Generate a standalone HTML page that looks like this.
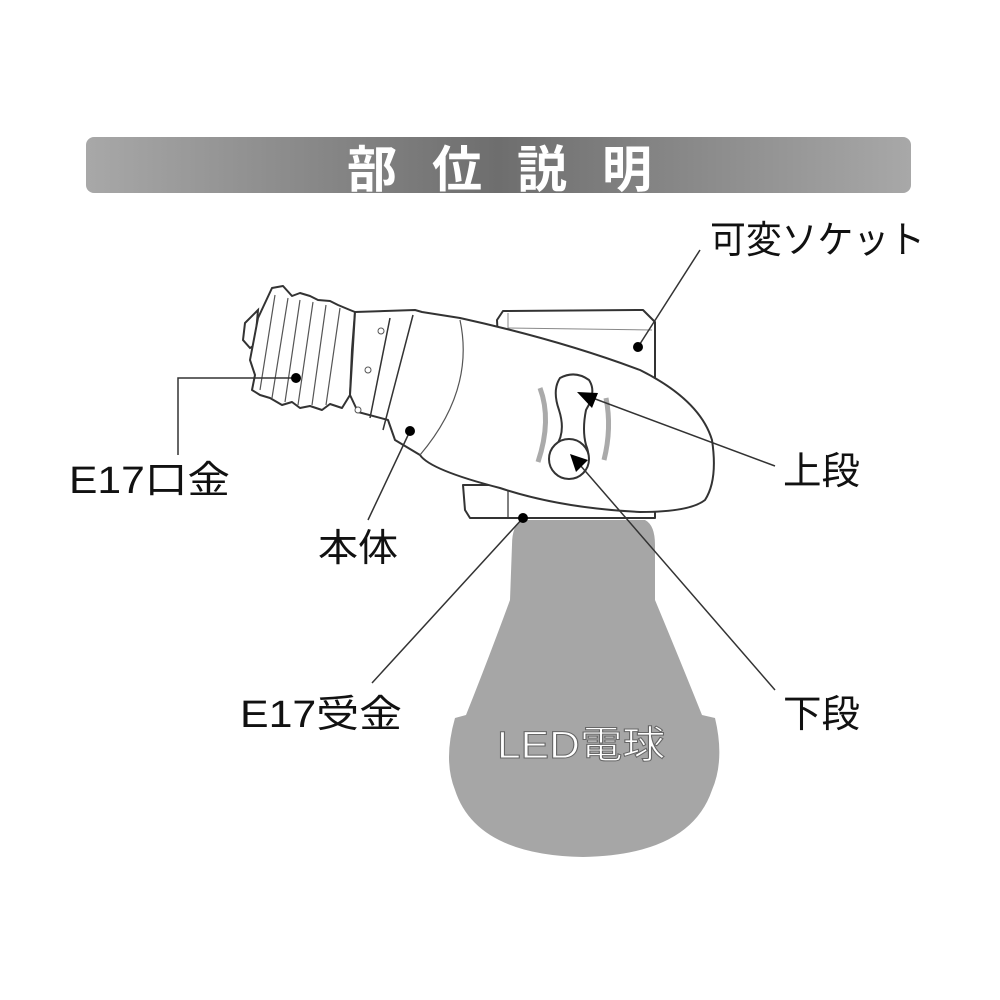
<!DOCTYPE html>
<html><head><meta charset="utf-8"><style>
html,body{margin:0;padding:0;background:#fff;width:1000px;height:1000px;overflow:hidden}
svg{display:block}
text{font-family:"Liberation Sans","Noto Sans CJK JP",sans-serif}
</style></head><body>
<svg width="1000" height="1000" viewBox="0 0 1000 1000" xmlns="http://www.w3.org/2000/svg">
<defs>
<linearGradient id="bg" x1="0" x2="1" y1="0" y2="0">
<stop offset="0" stop-color="#a8a8a8"/><stop offset="0.5" stop-color="#6e6e6e"/><stop offset="1" stop-color="#a8a8a8"/>
</linearGradient>
</defs>
<rect x="86" y="137" width="825" height="56" rx="8" fill="url(#bg)"/>
<text x="347" y="187" font-size="50" fill="#fff" font-weight="bold" textLength="305" lengthAdjust="spacing">部位説明</text>

<!-- bulb -->
<path d="M522,520 L645,520 Q655,525 655,545 L655,600 Q680,660 702,715 L715,718 Q725,760 712,790 Q690,855 583,857 Q476,855 455,790 Q443,760 455,718 L466,715 Q488,660 510,600 L512,545 Q512,525 522,520 Z" fill="#a6a6a6"/>
<text x="497" y="758" font-size="38" fill="#fff" stroke="#666" stroke-width="1" textLength="168" lengthAdjust="spacingAndGlyphs">LED電球</text>

<!-- socket box -->
<g fill="#fff" stroke="#333" stroke-width="2" stroke-linejoin="round">
<path d="M497,320 L503,311 L643,310 L655,322 L655,380 L500,380 Z"/>
<path d="M463,485 L655,485 L655,518 L470,518 L465,510 Z"/>
</g>
<line x1="508" y1="313" x2="508" y2="340" stroke="#888" stroke-width="1"/>
<line x1="508" y1="328" x2="652" y2="330" stroke="#888" stroke-width="1"/>
<line x1="508" y1="485" x2="508" y2="517" stroke="#555" stroke-width="1.5"/>

<!-- screw base -->
<path d="M258,310 L245,323 L243,340 L250,348 L255,345 L258,310 Z" fill="#fff" stroke="#333" stroke-width="2"/>
<path d="M258,318 L272,288 L283,286 L292,296 L300,293 L310,296 L318,300 L330,301 L338,305 L350,310 L355,312 L352,350 L350,395 L342,408 L330,404 L322,410 L310,406 L300,408 L292,402 L282,405 L270,398 L260,395 L252,390 L255,375 L250,360 Z" fill="#fff" stroke="#333" stroke-width="2" stroke-linejoin="round"/>
<g stroke="#555" stroke-width="1.2">
<line x1="275" y1="295" x2="260" y2="390"/><line x1="288" y1="298" x2="272" y2="398"/>
<line x1="300" y1="300" x2="285" y2="402"/><line x1="313" y1="302" x2="298" y2="405"/>
<line x1="326" y1="305" x2="312" y2="405"/><line x1="340" y1="308" x2="326" y2="405"/>
</g>
<!-- collar + body -->
<path d="M355,312 L415,310 L422,312 L460,318 Q560,340 640,370 Q700,400 712,440 Q718,480 705,500 Q690,512 640,512 Q560,508 500,488 Q430,470 420,455 L395,440 L388,420 L358,412 L350,395 Z" fill="#fff" stroke="#333" stroke-width="2" stroke-linejoin="round"/>
<line x1="390" y1="318" x2="370" y2="418" stroke="#333" stroke-width="1.5"/>
<line x1="413" y1="315" x2="383" y2="430" stroke="#333" stroke-width="1.5"/>
<path d="M460,320 Q475,390 420,455" fill="none" stroke="#555" stroke-width="1.2"/>
<g fill="#fff" stroke="#555" stroke-width="1"><circle cx="381" cy="331" r="3"/><circle cx="368" cy="370" r="3"/><circle cx="358" cy="410" r="3"/></g>
<!-- buttons -->
<path d="M560,378 Q575,370 589,380 Q597,392 586,410 Q582,430 586,445 Q592,460 584,472 Q570,480 556,474 Q546,462 556,446 Q566,432 559,410 Q552,390 560,378 Z" fill="#fff" stroke="#333" stroke-width="2"/>
<circle cx="569" cy="459" r="20" fill="#fff" stroke="#333" stroke-width="2"/>
<path d="M540,388 Q552,420 538,462" fill="none" stroke="#aaa" stroke-width="5"/>
<path d="M606,398 Q612,428 604,460" fill="none" stroke="#aaa" stroke-width="5"/>

<!-- leaders -->
<g stroke="#333" stroke-width="1.5" fill="none">
<polyline points="178,455 178,378 296,378"/>
<line x1="700" y1="250" x2="638" y2="347"/>
<line x1="368" y1="520" x2="410" y2="431"/>
<line x1="372" y1="683" x2="523" y2="518"/>
<line x1="775" y1="466" x2="590" y2="397"/>
<line x1="775" y1="690" x2="580" y2="465"/>
</g>
<g fill="#000">
<circle cx="296" cy="378" r="5"/><circle cx="638" cy="347" r="5"/><circle cx="410" cy="431" r="5"/><circle cx="523" cy="518" r="5"/>
<polygon points="577,392 598,393 592,408"/>
<polygon points="570,454 588,460 576,472"/>
</g>

<g font-size="38" fill="#111">
<text x="710" y="253" textLength="215" lengthAdjust="spacingAndGlyphs">可変ソケット</text>
<text x="783" y="484" textLength="77" lengthAdjust="spacingAndGlyphs">上段</text>
<text x="783" y="727" textLength="77" lengthAdjust="spacingAndGlyphs">下段</text>
<text x="69" y="493" textLength="161" lengthAdjust="spacingAndGlyphs">E17口金</text>
<text x="318" y="561" textLength="80" lengthAdjust="spacingAndGlyphs">本体</text>
<text x="240" y="727" textLength="162" lengthAdjust="spacingAndGlyphs">E17受金</text>
</g>
</svg>
</body></html>
